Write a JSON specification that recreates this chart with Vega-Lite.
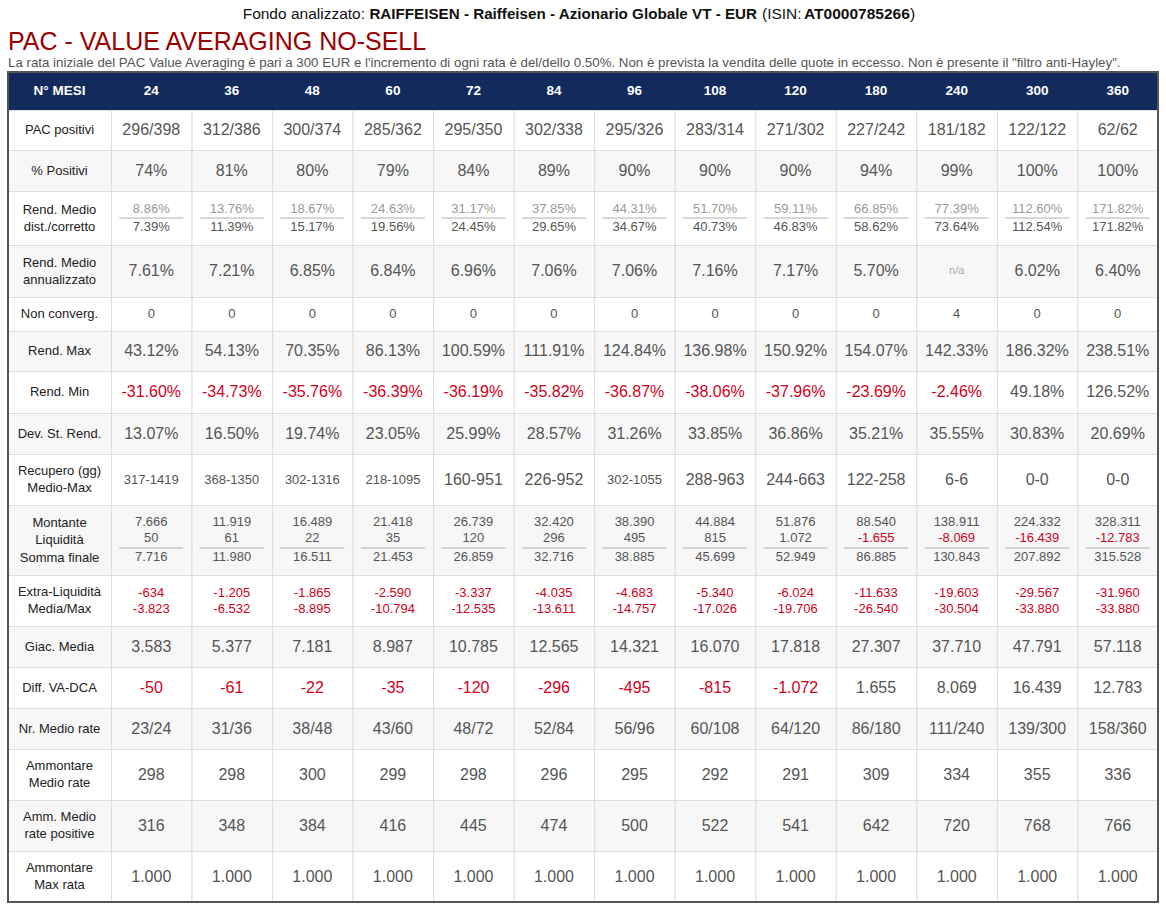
{
"$schema": "https://vega.github.io/schema/vega-lite/v6.json",
"width": 1166, "height": 909, "padding": 0, "autosize": "none", "background": "white",
"config": {"view": {"stroke": null}, "font": "Liberation Sans", "text": {"font": "Liberation Sans"}},
"datasets": {
"cells": [
{"row":0,"col":0,"text":"N° MESI"},{"row":0,"col":1,"text":"24"},{"row":0,"col":2,"text":"36"},{"row":0,"col":3,"text":"48"},{"row":0,"col":4,"text":"60"},{"row":0,"col":5,"text":"72"},{"row":0,"col":6,"text":"84"},{"row":0,"col":7,"text":"96"},{"row":0,"col":8,"text":"108"},{"row":0,"col":9,"text":"120"},{"row":0,"col":10,"text":"180"},{"row":0,"col":11,"text":"240"},{"row":0,"col":12,"text":"300"},{"row":0,"col":13,"text":"360"},
{"row":1,"col":0,"text":"PAC positivi"},{"row":1,"col":1,"text":"296/398"},{"row":1,"col":2,"text":"312/386"},{"row":1,"col":3,"text":"300/374"},{"row":1,"col":4,"text":"285/362"},{"row":1,"col":5,"text":"295/350"},{"row":1,"col":6,"text":"302/338"},{"row":1,"col":7,"text":"295/326"},{"row":1,"col":8,"text":"283/314"},{"row":1,"col":9,"text":"271/302"},{"row":1,"col":10,"text":"227/242"},{"row":1,"col":11,"text":"181/182"},{"row":1,"col":12,"text":"122/122"},{"row":1,"col":13,"text":"62/62"},
{"row":2,"col":0,"text":"% Positivi"},{"row":2,"col":1,"text":"74%"},{"row":2,"col":2,"text":"81%"},{"row":2,"col":3,"text":"80%"},{"row":2,"col":4,"text":"79%"},{"row":2,"col":5,"text":"84%"},{"row":2,"col":6,"text":"89%"},{"row":2,"col":7,"text":"90%"},{"row":2,"col":8,"text":"90%"},{"row":2,"col":9,"text":"90%"},{"row":2,"col":10,"text":"94%"},{"row":2,"col":11,"text":"99%"},{"row":2,"col":12,"text":"100%"},{"row":2,"col":13,"text":"100%"},
{"row":3,"col":0,"text":"Rend. Medio\ndist./corretto"},{"row":3,"col":1,"text":"8.86%"},{"row":3,"col":2,"text":"13.76%"},{"row":3,"col":3,"text":"18.67%"},{"row":3,"col":4,"text":"24.63%"},{"row":3,"col":5,"text":"31.17%"},{"row":3,"col":6,"text":"37.85%"},{"row":3,"col":7,"text":"44.31%"},{"row":3,"col":8,"text":"51.70%"},{"row":3,"col":9,"text":"59.11%"},{"row":3,"col":10,"text":"66.85%"},{"row":3,"col":11,"text":"77.39%"},{"row":3,"col":12,"text":"112.60%"},{"row":3,"col":13,"text":"171.82%"},
{"row":3,"col":1,"line":1,"text":"7.39%"},{"row":3,"col":2,"line":1,"text":"11.39%"},{"row":3,"col":3,"line":1,"text":"15.17%"},{"row":3,"col":4,"line":1,"text":"19.56%"},{"row":3,"col":5,"line":1,"text":"24.45%"},{"row":3,"col":6,"line":1,"text":"29.65%"},{"row":3,"col":7,"line":1,"text":"34.67%"},{"row":3,"col":8,"line":1,"text":"40.73%"},{"row":3,"col":9,"line":1,"text":"46.83%"},{"row":3,"col":10,"line":1,"text":"58.62%"},{"row":3,"col":11,"line":1,"text":"73.64%"},{"row":3,"col":12,"line":1,"text":"112.54%"},{"row":3,"col":13,"line":1,"text":"171.82%"},
{"row":4,"col":0,"text":"Rend. Medio\nannualizzato"},{"row":4,"col":1,"text":"7.61%"},{"row":4,"col":2,"text":"7.21%"},{"row":4,"col":3,"text":"6.85%"},{"row":4,"col":4,"text":"6.84%"},{"row":4,"col":5,"text":"6.96%"},{"row":4,"col":6,"text":"7.06%"},{"row":4,"col":7,"text":"7.06%"},{"row":4,"col":8,"text":"7.16%"},{"row":4,"col":9,"text":"7.17%"},{"row":4,"col":10,"text":"5.70%"},{"row":4,"col":11,"text":"n/a"},{"row":4,"col":12,"text":"6.02%"},{"row":4,"col":13,"text":"6.40%"},
{"row":5,"col":0,"text":"Non converg."},{"row":5,"col":1,"text":"0"},{"row":5,"col":2,"text":"0"},{"row":5,"col":3,"text":"0"},{"row":5,"col":4,"text":"0"},{"row":5,"col":5,"text":"0"},{"row":5,"col":6,"text":"0"},{"row":5,"col":7,"text":"0"},{"row":5,"col":8,"text":"0"},{"row":5,"col":9,"text":"0"},{"row":5,"col":10,"text":"0"},{"row":5,"col":11,"text":"4"},{"row":5,"col":12,"text":"0"},{"row":5,"col":13,"text":"0"},
{"row":6,"col":0,"text":"Rend. Max"},{"row":6,"col":1,"text":"43.12%"},{"row":6,"col":2,"text":"54.13%"},{"row":6,"col":3,"text":"70.35%"},{"row":6,"col":4,"text":"86.13%"},{"row":6,"col":5,"text":"100.59%"},{"row":6,"col":6,"text":"111.91%"},{"row":6,"col":7,"text":"124.84%"},{"row":6,"col":8,"text":"136.98%"},{"row":6,"col":9,"text":"150.92%"},{"row":6,"col":10,"text":"154.07%"},{"row":6,"col":11,"text":"142.33%"},{"row":6,"col":12,"text":"186.32%"},{"row":6,"col":13,"text":"238.51%"},
{"row":7,"col":0,"text":"Rend. Min"},{"row":7,"col":1,"text":"-31.60%"},{"row":7,"col":2,"text":"-34.73%"},{"row":7,"col":3,"text":"-35.76%"},{"row":7,"col":4,"text":"-36.39%"},{"row":7,"col":5,"text":"-36.19%"},{"row":7,"col":6,"text":"-35.82%"},{"row":7,"col":7,"text":"-36.87%"},{"row":7,"col":8,"text":"-38.06%"},{"row":7,"col":9,"text":"-37.96%"},{"row":7,"col":10,"text":"-23.69%"},{"row":7,"col":11,"text":"-2.46%"},{"row":7,"col":12,"text":"49.18%"},{"row":7,"col":13,"text":"126.52%"},
{"row":8,"col":0,"text":"Dev. St. Rend."},{"row":8,"col":1,"text":"13.07%"},{"row":8,"col":2,"text":"16.50%"},{"row":8,"col":3,"text":"19.74%"},{"row":8,"col":4,"text":"23.05%"},{"row":8,"col":5,"text":"25.99%"},{"row":8,"col":6,"text":"28.57%"},{"row":8,"col":7,"text":"31.26%"},{"row":8,"col":8,"text":"33.85%"},{"row":8,"col":9,"text":"36.86%"},{"row":8,"col":10,"text":"35.21%"},{"row":8,"col":11,"text":"35.55%"},{"row":8,"col":12,"text":"30.83%"},{"row":8,"col":13,"text":"20.69%"},
{"row":9,"col":0,"text":"Recupero (gg)\nMedio-Max"},{"row":9,"col":1,"text":"317-1419"},{"row":9,"col":2,"text":"368-1350"},{"row":9,"col":3,"text":"302-1316"},{"row":9,"col":4,"text":"218-1095"},{"row":9,"col":5,"text":"160-951"},{"row":9,"col":6,"text":"226-952"},{"row":9,"col":7,"text":"302-1055"},{"row":9,"col":8,"text":"288-963"},{"row":9,"col":9,"text":"244-663"},{"row":9,"col":10,"text":"122-258"},{"row":9,"col":11,"text":"6-6"},{"row":9,"col":12,"text":"0-0"},{"row":9,"col":13,"text":"0-0"},
{"row":10,"col":0,"text":"Montante\nLiquidità\nSomma finale"},{"row":10,"col":1,"text":"7.666"},{"row":10,"col":2,"text":"11.919"},{"row":10,"col":3,"text":"16.489"},{"row":10,"col":4,"text":"21.418"},{"row":10,"col":5,"text":"26.739"},{"row":10,"col":6,"text":"32.420"},{"row":10,"col":7,"text":"38.390"},{"row":10,"col":8,"text":"44.884"},{"row":10,"col":9,"text":"51.876"},{"row":10,"col":10,"text":"88.540"},{"row":10,"col":11,"text":"138.911"},{"row":10,"col":12,"text":"224.332"},{"row":10,"col":13,"text":"328.311"},
{"row":10,"col":1,"line":1,"text":"50"},{"row":10,"col":2,"line":1,"text":"61"},{"row":10,"col":3,"line":1,"text":"22"},{"row":10,"col":4,"line":1,"text":"35"},{"row":10,"col":5,"line":1,"text":"120"},{"row":10,"col":6,"line":1,"text":"296"},{"row":10,"col":7,"line":1,"text":"495"},{"row":10,"col":8,"line":1,"text":"815"},{"row":10,"col":9,"line":1,"text":"1.072"},{"row":10,"col":10,"line":1,"text":"-1.655"},{"row":10,"col":11,"line":1,"text":"-8.069"},{"row":10,"col":12,"line":1,"text":"-16.439"},{"row":10,"col":13,"line":1,"text":"-12.783"},
{"row":10,"col":1,"line":2,"text":"7.716"},{"row":10,"col":2,"line":2,"text":"11.980"},{"row":10,"col":3,"line":2,"text":"16.511"},{"row":10,"col":4,"line":2,"text":"21.453"},{"row":10,"col":5,"line":2,"text":"26.859"},{"row":10,"col":6,"line":2,"text":"32.716"},{"row":10,"col":7,"line":2,"text":"38.885"},{"row":10,"col":8,"line":2,"text":"45.699"},{"row":10,"col":9,"line":2,"text":"52.949"},{"row":10,"col":10,"line":2,"text":"86.885"},{"row":10,"col":11,"line":2,"text":"130.843"},{"row":10,"col":12,"line":2,"text":"207.892"},{"row":10,"col":13,"line":2,"text":"315.528"},
{"row":11,"col":0,"text":"Extra-Liquidità\nMedia/Max"},{"row":11,"col":1,"text":"-634"},{"row":11,"col":2,"text":"-1.205"},{"row":11,"col":3,"text":"-1.865"},{"row":11,"col":4,"text":"-2.590"},{"row":11,"col":5,"text":"-3.337"},{"row":11,"col":6,"text":"-4.035"},{"row":11,"col":7,"text":"-4.683"},{"row":11,"col":8,"text":"-5.340"},{"row":11,"col":9,"text":"-6.024"},{"row":11,"col":10,"text":"-11.633"},{"row":11,"col":11,"text":"-19.603"},{"row":11,"col":12,"text":"-29.567"},{"row":11,"col":13,"text":"-31.960"},
{"row":11,"col":1,"line":1,"text":"-3.823"},{"row":11,"col":2,"line":1,"text":"-6.532"},{"row":11,"col":3,"line":1,"text":"-8.895"},{"row":11,"col":4,"line":1,"text":"-10.794"},{"row":11,"col":5,"line":1,"text":"-12.535"},{"row":11,"col":6,"line":1,"text":"-13.611"},{"row":11,"col":7,"line":1,"text":"-14.757"},{"row":11,"col":8,"line":1,"text":"-17.026"},{"row":11,"col":9,"line":1,"text":"-19.706"},{"row":11,"col":10,"line":1,"text":"-26.540"},{"row":11,"col":11,"line":1,"text":"-30.504"},{"row":11,"col":12,"line":1,"text":"-33.880"},{"row":11,"col":13,"line":1,"text":"-33.880"},
{"row":12,"col":0,"text":"Giac. Media"},{"row":12,"col":1,"text":"3.583"},{"row":12,"col":2,"text":"5.377"},{"row":12,"col":3,"text":"7.181"},{"row":12,"col":4,"text":"8.987"},{"row":12,"col":5,"text":"10.785"},{"row":12,"col":6,"text":"12.565"},{"row":12,"col":7,"text":"14.321"},{"row":12,"col":8,"text":"16.070"},{"row":12,"col":9,"text":"17.818"},{"row":12,"col":10,"text":"27.307"},{"row":12,"col":11,"text":"37.710"},{"row":12,"col":12,"text":"47.791"},{"row":12,"col":13,"text":"57.118"},
{"row":13,"col":0,"text":"Diff. VA-DCA"},{"row":13,"col":1,"text":"-50"},{"row":13,"col":2,"text":"-61"},{"row":13,"col":3,"text":"-22"},{"row":13,"col":4,"text":"-35"},{"row":13,"col":5,"text":"-120"},{"row":13,"col":6,"text":"-296"},{"row":13,"col":7,"text":"-495"},{"row":13,"col":8,"text":"-815"},{"row":13,"col":9,"text":"-1.072"},{"row":13,"col":10,"text":"1.655"},{"row":13,"col":11,"text":"8.069"},{"row":13,"col":12,"text":"16.439"},{"row":13,"col":13,"text":"12.783"},
{"row":14,"col":0,"text":"Nr. Medio rate"},{"row":14,"col":1,"text":"23/24"},{"row":14,"col":2,"text":"31/36"},{"row":14,"col":3,"text":"38/48"},{"row":14,"col":4,"text":"43/60"},{"row":14,"col":5,"text":"48/72"},{"row":14,"col":6,"text":"52/84"},{"row":14,"col":7,"text":"56/96"},{"row":14,"col":8,"text":"60/108"},{"row":14,"col":9,"text":"64/120"},{"row":14,"col":10,"text":"86/180"},{"row":14,"col":11,"text":"111/240"},{"row":14,"col":12,"text":"139/300"},{"row":14,"col":13,"text":"158/360"},
{"row":15,"col":0,"text":"Ammontare\nMedio rate"},{"row":15,"col":1,"text":"298"},{"row":15,"col":2,"text":"298"},{"row":15,"col":3,"text":"300"},{"row":15,"col":4,"text":"299"},{"row":15,"col":5,"text":"298"},{"row":15,"col":6,"text":"296"},{"row":15,"col":7,"text":"295"},{"row":15,"col":8,"text":"292"},{"row":15,"col":9,"text":"291"},{"row":15,"col":10,"text":"309"},{"row":15,"col":11,"text":"334"},{"row":15,"col":12,"text":"355"},{"row":15,"col":13,"text":"336"},
{"row":16,"col":0,"text":"Amm. Medio\nrate positive"},{"row":16,"col":1,"text":"316"},{"row":16,"col":2,"text":"348"},{"row":16,"col":3,"text":"384"},{"row":16,"col":4,"text":"416"},{"row":16,"col":5,"text":"445"},{"row":16,"col":6,"text":"474"},{"row":16,"col":7,"text":"500"},{"row":16,"col":8,"text":"522"},{"row":16,"col":9,"text":"541"},{"row":16,"col":10,"text":"642"},{"row":16,"col":11,"text":"720"},{"row":16,"col":12,"text":"768"},{"row":16,"col":13,"text":"766"},
{"row":17,"col":0,"text":"Ammontare\nMax rata"},{"row":17,"col":1,"text":"1.000"},{"row":17,"col":2,"text":"1.000"},{"row":17,"col":3,"text":"1.000"},{"row":17,"col":4,"text":"1.000"},{"row":17,"col":5,"text":"1.000"},{"row":17,"col":6,"text":"1.000"},{"row":17,"col":7,"text":"1.000"},{"row":17,"col":8,"text":"1.000"},{"row":17,"col":9,"text":"1.000"},{"row":17,"col":10,"text":"1.000"},{"row":17,"col":11,"text":"1.000"},{"row":17,"col":12,"text":"1.000"},{"row":17,"col":13,"text":"1.000"}
]},
"data": {"name": "cells"},
"layer": [
{"transform": [{"filter": "!datum.line"}],
 "mark": {"type": "rect", "strokeWidth": 1},
 "encoding": {
  "x": {"field": "col", "type": "quantitative", "bin": {"step": 1, "extent": [-0.5, 13.5], "nice": false}, "axis": null,
        "scale": {"domain": [-0.5,0.5,1.5,2.5,3.5,4.5,5.5,6.5,7.5,8.5,9.5,10.5,11.5,12.5,13.5], "range": [8,111,191.54,272.08,352.62,433.15,513.69,594.23,674.77,755.31,835.85,916.38,996.92,1077.46,1158], "nice": false, "zero": false}},
  "y": {"field": "row", "type": "quantitative", "bin": {"step": 1, "extent": [-0.5, 17.5], "nice": false}, "axis": null,
        "scale": {"domain": [-4.5,-3.5,-2.5,-1.5,-0.5,0.5,1.5,2.5,3.5,4.5,5.5,6.5,7.5,8.5,9.5,10.5,11.5,12.5,13.5,14.5,15.5,16.5,17.5], "range": [0,18.5,50,66.5,72,110,150,191,245,297,331,371,413,454,505,575,626,667,708,749,800,851,902], "nice": false, "zero": false}},
  "fill": {"condition": [{"test": "datum.row === 0", "value": "#132a5c"}, {"test": "datum.row % 2 === 0", "value": "#f7f7f7"}], "value": "#ffffff"},
  "stroke": {"condition": {"test": "datum.row === 0", "value": "#132a5c"}, "value": "#dddddd"}
 }},
{"data": {"values": [{}]},
 "mark": {"type": "rect", "fillOpacity": 0, "stroke": "#555555", "strokeWidth": 2},
 "encoding": {
  "x": {"datum": -0.5, "type": "quantitative", "axis": null, "scale": {"domain": [-0.5,0.5,1.5,2.5,3.5,4.5,5.5,6.5,7.5,8.5,9.5,10.5,11.5,12.5,13.5], "range": [8,111,191.54,272.08,352.62,433.15,513.69,594.23,674.77,755.31,835.85,916.38,996.92,1077.46,1158], "nice": false, "zero": false}},
  "x2": {"datum": 13.5},
  "y": {"datum": -0.5, "type": "quantitative", "axis": null, "scale": {"domain": [-4.5,-3.5,-2.5,-1.5,-0.5,0.5,1.5,2.5,3.5,4.5,5.5,6.5,7.5,8.5,9.5,10.5,11.5,12.5,13.5,14.5,15.5,16.5,17.5], "range": [0,18.5,50,66.5,72,110,150,191,245,297,331,371,413,454,505,575,626,667,708,749,800,851,902], "nice": false, "zero": false}},
  "y2": {"datum": 17.5}
 }},
{"transform": [{"filter": "datum.row === 0"}],
 "mark": {"type": "text", "fontWeight": "bold", "fontSize": 13.5, "color": "#ffffff", "baseline": "middle", "align": "center"},
 "encoding": {"x": {"field": "col", "type": "quantitative"}, "y": {"field": "row", "type": "quantitative"}, "text": {"field": "text"}}},
{"transform": [{"filter": "datum.row > 0 && datum.col === 0 && indexof([3,4,9,10,11,15,16,17], datum.row) < 0"}],
 "mark": {"type": "text", "fontSize": 13, "color": "#222222", "baseline": "middle", "align": "center"},
 "encoding": {"x": {"field": "col", "type": "quantitative"}, "y": {"field": "row", "type": "quantitative"}, "text": {"field": "text"}}},
{"transform": [{"filter": "datum.col === 0 && indexof([3,4,9,11,15,16,17], datum.row) >= 0"}],
 "mark": {"type": "text", "fontSize": 13, "color": "#222222", "baseline": "middle", "align": "center", "lineBreak": "\n", "lineHeight": 17, "dy": -8.5},
 "encoding": {"x": {"field": "col", "type": "quantitative"}, "y": {"field": "row", "type": "quantitative"}, "text": {"field": "text"}}},
{"transform": [{"filter": "datum.col === 0 && datum.row === 10"}],
 "mark": {"type": "text", "fontSize": 13, "color": "#222222", "baseline": "middle", "align": "center", "lineBreak": "\n", "lineHeight": 17.5, "dy": -17.5},
 "encoding": {"x": {"field": "col", "type": "quantitative"}, "y": {"field": "row", "type": "quantitative"}, "text": {"field": "text"}}},
{"transform": [{"filter": "datum.row > 0 && datum.col > 0 && datum.row !== 3 && datum.row !== 10 && datum.row !== 11"}],
 "mark": {"type": "text", "baseline": "middle", "align": "center"},
 "encoding": {"x": {"field": "col", "type": "quantitative"}, "y": {"field": "row", "type": "quantitative"}, "text": {"field": "text"},
  "color": {"condition": [{"test": "datum.text === 'n/a'", "value": "#aaaaaa"}, {"test": "indexof(datum.text, '-') === 0", "value": "#d0011b"}], "value": "#555555"},
  "size": {"condition": [{"test": "datum.text === 'n/a'", "value": 11}, {"test": "datum.row === 5 || length(datum.text) > 7", "value": 13}], "value": 16}}},
{"transform": [{"filter": "datum.row === 3 && datum.col > 0 && !datum.line"}],
 "mark": {"type": "text", "baseline": "middle", "align": "center", "fontSize": 13, "color": "#9a9a9a", "dy": -9},
 "encoding": {"x": {"field": "col", "type": "quantitative"}, "y": {"field": "row", "type": "quantitative"}, "text": {"field": "text"}}},
{"transform": [{"filter": "datum.row === 3 && datum.line === 1"}],
 "mark": {"type": "text", "baseline": "middle", "align": "center", "fontSize": 13, "color": "#555555", "dy": 9},
 "encoding": {"x": {"field": "col", "type": "quantitative"}, "y": {"field": "row", "type": "quantitative"}, "text": {"field": "text"}}},
{"transform": [{"filter": "datum.row === 10 && datum.col > 0 && !datum.line"}],
 "mark": {"type": "text", "baseline": "middle", "align": "center", "fontSize": 13, "dy": -18},
 "encoding": {"x": {"field": "col", "type": "quantitative"}, "y": {"field": "row", "type": "quantitative"}, "text": {"field": "text"},
  "color": {"condition": {"test": "indexof(datum.text, '-') === 0", "value": "#d0011b"}, "value": "#555555"}}},
{"transform": [{"filter": "datum.row === 10 && datum.line === 1"}],
 "mark": {"type": "text", "baseline": "middle", "align": "center", "fontSize": 13, "dy": -2},
 "encoding": {"x": {"field": "col", "type": "quantitative"}, "y": {"field": "row", "type": "quantitative"}, "text": {"field": "text"},
  "color": {"condition": {"test": "indexof(datum.text, '-') === 0", "value": "#d0011b"}, "value": "#555555"}}},
{"transform": [{"filter": "datum.row === 10 && datum.line === 2"}],
 "mark": {"type": "text", "baseline": "middle", "align": "center", "fontSize": 13, "dy": 17},
 "encoding": {"x": {"field": "col", "type": "quantitative"}, "y": {"field": "row", "type": "quantitative"}, "text": {"field": "text"},
  "color": {"condition": {"test": "indexof(datum.text, '-') === 0", "value": "#d0011b"}, "value": "#555555"}}},
{"transform": [{"filter": "datum.row === 11 && datum.col > 0 && !datum.line"}],
 "mark": {"type": "text", "baseline": "middle", "align": "center", "fontSize": 13, "dy": -8},
 "encoding": {"x": {"field": "col", "type": "quantitative"}, "y": {"field": "row", "type": "quantitative"}, "text": {"field": "text"},
  "color": {"condition": {"test": "indexof(datum.text, '-') === 0", "value": "#d0011b"}, "value": "#555555"}}},
{"transform": [{"filter": "datum.row === 11 && datum.line === 1"}],
 "mark": {"type": "text", "baseline": "middle", "align": "center", "fontSize": 13, "dy": 8},
 "encoding": {"x": {"field": "col", "type": "quantitative"}, "y": {"field": "row", "type": "quantitative"}, "text": {"field": "text"},
  "color": {"condition": {"test": "indexof(datum.text, '-') === 0", "value": "#d0011b"}, "value": "#555555"}}},
{"transform": [{"filter": "datum.row === 3 && datum.col > 0 && !datum.line"}],
 "mark": {"type": "tick", "orient": "horizontal", "size": 64, "thickness": 1, "color": "#b0b0b0", "opacity": 1},
 "encoding": {"x": {"field": "col", "type": "quantitative"}, "y": {"field": "row", "type": "quantitative"}}},
{"transform": [{"filter": "datum.row === 10 && datum.col > 0 && !datum.line"}],
 "mark": {"type": "tick", "orient": "horizontal", "size": 64, "thickness": 1, "color": "#b0b0b0", "opacity": 1, "yOffset": 8},
 "encoding": {"x": {"field": "col", "type": "quantitative"}, "y": {"field": "row", "type": "quantitative"}}},
{"data": {"values": [{}]},
 "mark": {"type": "text", "align": "right", "baseline": "alphabetic", "fontSize": 15.5, "color": "#111111"},
 "encoding": {"x": {"datum": 3.654, "type": "quantitative"}, "y": {"datum": -3.5, "type": "quantitative"}, "text": {"value": "Fondo analizzato:"}}},
{"data": {"values": [{}]},
 "mark": {"type": "text", "align": "right", "baseline": "alphabetic", "fontSize": 15.2, "fontWeight": "bold", "color": "#111111"},
 "encoding": {"x": {"datum": 8.521, "type": "quantitative"}, "y": {"datum": -3.5, "type": "quantitative"}, "text": {"value": "RAIFFEISEN - Raiffeisen - Azionario Globale VT - EUR"}}},
{"data": {"values": [{}]},
 "mark": {"type": "text", "align": "left", "baseline": "alphabetic", "fontSize": 15.5, "color": "#111111"},
 "encoding": {"x": {"datum": 8.583, "type": "quantitative"}, "y": {"datum": -3.5, "type": "quantitative"}, "text": {"value": "(ISIN:"}}},
{"data": {"values": [{}]},
 "mark": {"type": "text", "align": "left", "baseline": "alphabetic", "fontSize": 15.5, "fontWeight": "bold", "color": "#111111"},
 "encoding": {"x": {"datum": 9.105, "type": "quantitative"}, "y": {"datum": -3.5, "type": "quantitative"}, "text": {"value": "AT0000785266"}}},
{"data": {"values": [{}]},
 "mark": {"type": "text", "align": "left", "baseline": "alphabetic", "fontSize": 15.5, "color": "#111111"},
 "encoding": {"x": {"datum": 10.42, "type": "quantitative"}, "y": {"datum": -3.5, "type": "quantitative"}, "text": {"value": ")"}}},
{"data": {"values": [{}]},
 "mark": {"type": "text", "align": "left", "baseline": "alphabetic", "fontSize": 25, "color": "#990000"},
 "encoding": {"x": {"datum": -0.5, "type": "quantitative"}, "y": {"datum": -2.5, "type": "quantitative"}, "text": {"value": "PAC - VALUE AVERAGING NO-SELL"}}},
{"data": {"values": [{}]},
 "mark": {"type": "text", "align": "left", "baseline": "alphabetic", "fontSize": 13.3, "color": "#555555"},
 "encoding": {"x": {"datum": -0.5, "type": "quantitative"}, "y": {"datum": -1.5, "type": "quantitative"}, "text": {"value": "La rata iniziale del PAC Value Averaging è pari a 300 EUR e l'incremento di ogni rata è del/dello 0.50%. Non è prevista la vendita delle quote in eccesso. Non è presente il \"filtro anti-Hayley\"."}}}
]
}
